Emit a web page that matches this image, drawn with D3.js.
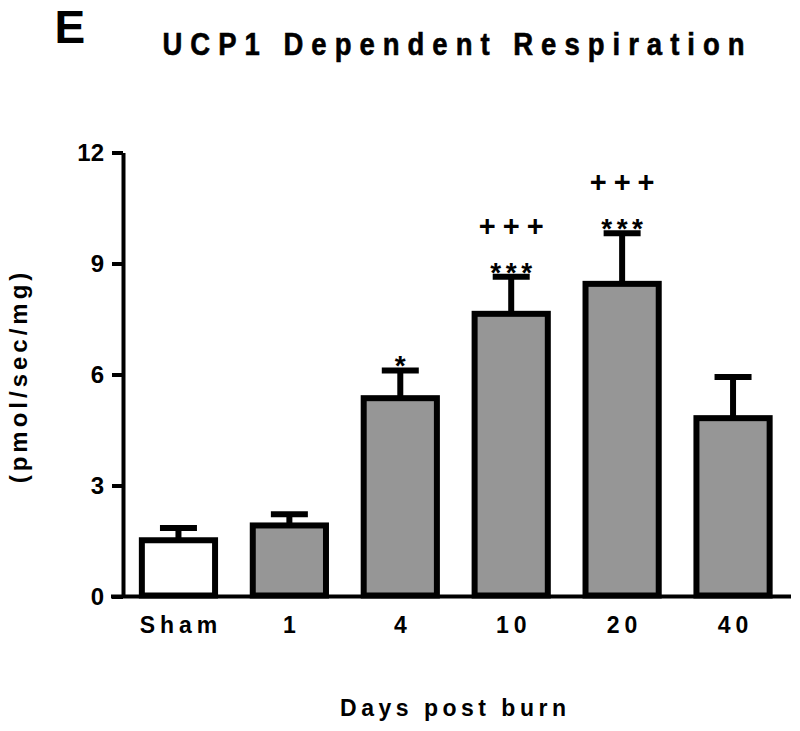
<!DOCTYPE html>
<html>
<head>
<meta charset="utf-8">
<script src="https://cdn.jsdelivr.net/npm/d3@7"></script>
<style>
  html, body { margin: 0; padding: 0; background: #ffffff; }
  svg { display: block; font-family: "Liberation Sans", Arial, Helvetica, sans-serif; }
</style>
</head>
<body>
<svg id="chart" width="800" height="731"></svg>
<script>
// ---- data ----
const categories = ["Sham", "1", "4", "10", "20", "40"];
const means = [1.52, 1.92, 5.36, 7.64, 8.45, 4.82];
const sems = [0.33, 0.30, 0.75, 1.00, 1.37, 1.11];
const stars = ["", "", "*", "***", "***", ""];
const crosses = ["", "", "", "+++", "+++", ""];
const yTicks = [0, 3, 6, 9, 12];
const panelLabel = "E";
const titleText = "UCP1 Dependent Respiration";
const xTitle = "Days post burn";
const yTitle = "(pmol/sec/mg)";

// ---- layout ----
const svg = d3.select("#chart");
const axisX = 123, axisY0 = 596.5;

const x = d3.scaleBand().domain(categories).range([axisX, 788.5])
  .paddingInner(0.34).paddingOuter(0.17);
const y = d3.scaleLinear().domain([0, 12]).range([axisY0, 152.5]);
const fill = d3.scaleOrdinal().domain(categories)
  .range(["#ffffff", "#969696", "#969696", "#969696", "#969696", "#969696"]);

// helper for spaced / compressed text
function spacedText(parent, o) {
  const k = o.k || 1;
  const g = parent.append("g")
    .attr("transform", `translate(${o.x},${o.y}) rotate(${o.rotate || 0}) scale(${k},1)`);
  const t = g.append("text")
    .text(o.text)
    .attr("font-size", o.size)
    .attr("font-weight", o.weight || "bold")
    .attr("letter-spacing", (o.spacing || 0) / k)
    .attr("text-anchor", o.anchor || "start")
    .attr("fill", "#000");
  if (o.stroke) t.attr("stroke", "#000").attr("stroke-width", o.stroke);
  if ((o.anchor === "middle") && o.spacing) t.attr("dx", o.spacing / k / 2);
  return t;
}

// panel letter & title
spacedText(svg, { x: 54.5, y: 42.5, text: panelLabel, size: 46, weight: "bold" });
spacedText(svg, { x: 453.5, y: 55, text: titleText, size: 32, k: 0.86, spacing: 8, anchor: "middle", stroke: 0.6 });

// y axis
const yAxis = d3.axisLeft(y).tickValues(yTicks).tickSize(11).tickSizeOuter(0).tickPadding(8);
const gy = svg.append("g").attr("transform", `translate(${axisX},0)`).call(yAxis);
gy.select(".domain").attr("stroke", "#000").attr("stroke-width", 4);
gy.selectAll(".tick line").attr("stroke", "#000").attr("stroke-width", 4);
gy.selectAll(".tick text").attr("font-size", 24).attr("font-weight", "bold")
  .attr("fill", "#000").attr("font-family", null);

// x axis (labels) + baseline
const xAxis = d3.axisBottom(x).tickSize(0).tickPadding(20);
const gx = svg.append("g").attr("transform", `translate(0,${axisY0})`).call(xAxis);
gx.select(".domain").remove();
gx.selectAll(".tick text").attr("font-size", 23).attr("font-weight", "bold")
  .attr("fill", "#000").attr("font-family", null)
  .attr("letter-spacing", 5).attr("dx", 2.5);

// error bars
const eb = svg.append("g");
categories.forEach((c, i) => {
  const cx = x(c) + x.bandwidth() / 2;
  const top = y(means[i] + sems[i]);
  eb.append("line").attr("x1", cx).attr("x2", cx)
    .attr("y1", y(means[i])).attr("y2", top)
    .attr("stroke", "#000").attr("stroke-width", 6);
  eb.append("line").attr("x1", cx - 18.5).attr("x2", cx + 18.5)
    .attr("y1", top).attr("y2", top)
    .attr("stroke", "#000").attr("stroke-width", 6);
});

// bars
svg.append("g").selectAll("rect").data(categories).join("rect")
  .attr("x", d => x(d))
  .attr("width", x.bandwidth())
  .attr("y", (d, i) => y(means[i]))
  .attr("height", (d, i) => y(0) - y(means[i]) - 1)
  .attr("fill", d => fill(d))
  .attr("stroke", "#000")
  .attr("stroke-width", 6);

// x baseline
svg.append("line").attr("x1", 111).attr("x2", 791)
  .attr("y1", axisY0).attr("y2", axisY0)
  .attr("stroke", "#000").attr("stroke-width", 4);

// significance markers
categories.forEach((c, i) => {
  const cx = x(c) + x.bandwidth() / 2;
  const top = y(means[i] + sems[i]);
  if (stars[i]) spacedText(svg, { x: cx, y: top + 5, text: stars[i], size: 28, weight: "bold", spacing: 4.5, anchor: "middle" });
  if (crosses[i]) spacedText(svg, { x: cx, y: top - 41, text: crosses[i], size: 29, weight: "bold", spacing: 7, anchor: "middle" });
});

// axis titles
spacedText(svg, { x: 453, y: 716, text: xTitle, size: 23, spacing: 4.5, anchor: "middle" });
spacedText(svg, { x: 27, y: 378, text: yTitle, size: 24, spacing: 4, anchor: "middle", rotate: -90 });
</script>
</body>
</html>
